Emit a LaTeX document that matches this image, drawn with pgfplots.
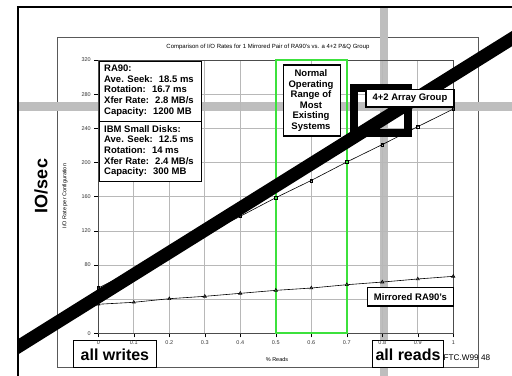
\documentclass[border=0pt]{standalone}
\usepackage{fontspec}
\setmainfont{Liberation Sans}
\usepackage{pgfplots}
\pgfplotsset{compat=1.18}
\definecolor{bandgray}{RGB}{190,190,190}
\definecolor{rangegreen}{RGB}{60,225,60}
\begin{document}
\begin{tikzpicture}
\begin{scope}[x=1pt,y=1pt]
\path[use as bounding box] (0,0) rectangle (512,-376);
\fill[white] (0,0) rectangle (512,-376);
\draw[black!65, line width=0.8] (57,-37) rectangle (478,-367);
\fill[bandgray] (18,-102) rectangle (512,-111);
\fill[bandgray] (380,-7) rectangle (388,-376);
\draw[line width=2] (17,-7) -- (512,-7);
\draw[line width=2.7] (18,-6) -- (18,-376);
% bottom boxes (under the tick labels)
\draw[line width=1.2, fill=white] (73.3,-340.5) rectangle (156.5,-367.7);
\node[font=\fontsize{16}{18}\selectfont\bfseries] at (114.9,-355) {all writes};
\draw[line width=1.2, fill=white] (372.7,-340.5) rectangle (443.3,-367.3);
\node[font=\fontsize{16}{18}\selectfont\bfseries] at (408,-354.5) {all reads};
\end{scope}
\begin{axis}[
  at={(98.3pt,-333.3pt)}, anchor=south west,
  scale only axis, width=355pt, height=273.3pt,
  xmin=0, xmax=1, ymin=0, ymax=320,
  xtick={0,0.1,0.2,0.3,0.4,0.5,0.6,0.7,0.8,0.9,1},
  xticklabels={0,0.1,0.2,0.3,0.4,0.5,0.6,0.7,0.8,0.9,1},
  ytick={0,40,80,120,160,200,240,280,320},
  grid=major, major grid style={black!28, line width=0.6pt},
  axis line style={black!70, line width=0.7pt},
  tick align=outside, xtick pos=left, ytick pos=left,
  major tick length=4pt, tick style={black, line width=0.5pt},
  ticklabel style={font=\fontsize{5.5}{6}\selectfont, text=black!80},
  /pgf/number format/assume math mode=true,
  clip=false,
]
\addplot[black, line width=0.6pt, mark=square, mark size=1.4pt, mark options={solid, fill=white}]
  coordinates {(0,53) (0.1,74) (0.2,95) (0.3,116) (0.4,137) (0.5,158.8) (0.6,179) (0.7,200.6) (0.8,221) (0.9,242) (1,262.6)};
\addplot[black, line width=0.6pt, mark=triangle, mark size=1.8pt, mark options={solid, fill=white}]
  coordinates {(0,34) (0.1,36.3) (0.2,40.5) (0.3,43.3) (0.4,46.8) (0.5,50.3) (0.6,53) (0.7,56.9) (0.8,60) (0.9,63.6) (1,66.7)};
\draw[rangegreen, line width=1.8pt] (axis cs:0.5015,0) rectangle (axis cs:0.7015,320);
\begin{scope}
\clip (axis cs:-0.2262,-49.9) rectangle (axis cs:1.1654,382);
\draw[line width=13pt] (axis cs:-0.2769,-29.0) -- (axis cs:1.2161,358.2);
\end{scope}
\draw[line width=8pt] (axis cs:0.7203,287.2) rectangle (axis cs:0.8724,234.5);
\end{axis}
\begin{scope}[x=1pt,y=1pt]
% title and labels
\node[font=\fontsize{6}{7}\selectfont] at (268,-47) {Comparison of I/O Rates for 1 Mirrored Pair of RA90's vs. a 4+2 P\&Q Group};
\node[font=\fontsize{5.5}{6}\selectfont, rotate=90] at (65,-196) {I/O Rate per Configuration};
\node[font=\fontsize{18}{20}\selectfont\bfseries, rotate=90] at (41,-186) {IO/sec};
\node[font=\fontsize{5.5}{6}\selectfont] at (277,-360) {\% Reads};
% RA90 box
\draw[line width=1.2, fill=white] (99.3,-61.7) rectangle (201.7,-121.7);
\node[anchor=north west, align=left, inner sep=0, font=\fontsize{9.5}{10.7}\selectfont\bfseries] at (104,-64.5)
  {RA90:\\Ave. Seek:~ 18.5 ms\\Rotation:~ 16.7 ms\\Xfer Rate:~ 2.8 MB/s\\Capacity:~ 1200 MB};
\draw[line width=1.2, fill=white] (99.3,-121.7) rectangle (201.7,-181.5);
\node[anchor=north west, align=left, inner sep=0, font=\fontsize{9.5}{10.7}\selectfont\bfseries] at (104,-125)
  {IBM Small Disks:\\Ave. Seek:~ 12.5 ms\\Rotation:~ 14 ms\\Xfer Rate:~ 2.4 MB/s\\Capacity:~ 300 MB};
% Normal operating range box
\draw[line width=1.2, fill=white] (283.3,-65) rectangle (340.7,-136);
\node[align=center, inner sep=0, font=\fontsize{9.5}{10.5}\selectfont\bfseries] at (311,-100.5)
  {Normal\\Operating\\Range of\\Most\\Existing\\Systems};
% labels
\draw[line width=1.2, fill=white] (366,-89.3) rectangle (454,-107);
\node[font=\fontsize{9.5}{10}\selectfont\bfseries] at (410,-98.2) {4+2 Array Group};
\draw[line width=1.2, fill=white] (367.7,-287.3) rectangle (453.3,-306);
\node[font=\fontsize{9.5}{10}\selectfont\bfseries] at (410.5,-296.7) {Mirrored RA90's};
\node[anchor=west, inner sep=0, font=\fontsize{8.2}{9}\selectfont] at (443.5,-357.5) {FTC.W99 48};
\end{scope}
\end{tikzpicture}
\end{document}
